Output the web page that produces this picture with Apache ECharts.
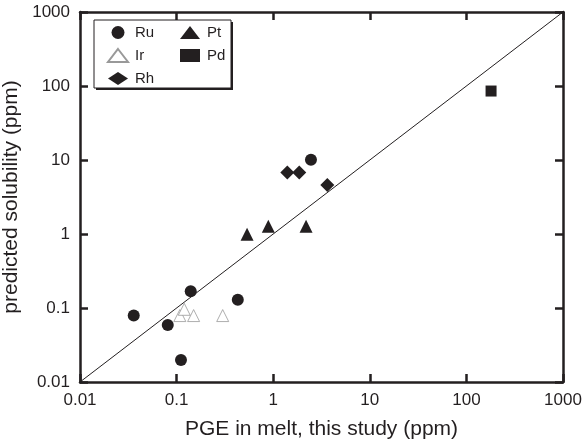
<!DOCTYPE html>
<html><head><meta charset="utf-8">
<script src="https://cdn.jsdelivr.net/npm/echarts@6/dist/echarts.min.js"></script>
<style>html,body{margin:0;padding:0;background:#fff}#c{width:585px;height:447px}</style>
</head><body><div id="c"></div>
<script>
const tickLabels = ['0.01','0.1','1','10','100','1000'];
const ru = [[0.036,0.079],[0.081,0.059],[0.111,0.0198],[0.14,0.168],[0.43,0.129],[2.46,10.1]];
const ir = [[0.108,0.079],[0.12,0.096],[0.15,0.079],[0.30,0.079]];
const rh = [[1.40,6.8],[1.86,6.8],[3.63,4.6]];
const pt = [[0.536,0.99],[0.89,1.27],[2.19,1.27]];
const pd = [[180,85.5]];
const oneToOne = [[0.01,0.01],[1000,1000]];

const ink = '#231f20';
const font = 'Liberation Sans, Arial, sans-serif';
const tickValues = tickLabels.map(Number);
const AX_MIN = tickValues[0], AX_MAX = tickValues[tickValues.length - 1];
const fmt = v => { const s = tickLabels.find(t => Math.abs(Math.log10(parseFloat(t)) - Math.log10(v)) < 1e-6); return s || ''; };
function axisBase(extra){
  return Object.assign({
    type:'log', logBase:10, min:AX_MIN, max:AX_MAX,
    axisLine:{show:true, lineStyle:{color:ink, width:2.5}},
    axisTick:{show:true, inside:true, length:8, lineStyle:{color:ink, width:2.5}},
    splitLine:{show:false},
    axisLabel:{show:true, color:ink, fontFamily:font, fontSize:17, margin:10, formatter:fmt}
  }, extra);
}
const legendText = {fontFamily:font, fontSize:15, color:ink, padding:[0,0,0,2]};
const chart = echarts.init(document.getElementById('c'));
chart.setOption({
  animation:false,
  backgroundColor:'#fff',
  grid:{left:80, right:22, top:12, bottom:65, containLabel:false, outerBoundsMode:'none'},
  graphic:[
    {type:'rect', shape:{x:96,y:22,width:137,height:68}, style:{fill:ink}, z:4},
    {type:'rect', shape:{x:94,y:20,width:137,height:68}, style:{fill:'#fff', stroke:ink, lineWidth:1}, z:5}
  ],
  legend:[
    {data:['Ru','Ir','Rh'], orient:'vertical', left:107, top:25, padding:0, itemGap:8, itemWidth:20, itemHeight:13, textStyle:legendText, z:10},
    {data:['Pt','Pd'], orient:'vertical', left:180, top:25, padding:0, itemGap:8, itemWidth:20, itemHeight:13, textStyle:legendText, z:10}
  ],
  xAxis:[
    axisBase({position:'bottom', name:'PGE in melt, this study (ppm)', nameLocation:'middle', nameGap:37, nameTextStyle:{fontFamily:font, fontSize:21, color:ink}}),
    axisBase({position:'top', axisLabel:{show:false}})
  ],
  yAxis:[
    axisBase({position:'left', name:'predicted solubility (ppm)', nameLocation:'middle', nameGap:46, nameTextStyle:{fontFamily:font, fontSize:21, color:ink}}),
    axisBase({position:'right', axisLabel:{show:false}})
  ],
  series:[
    {type:'line', data:oneToOne, symbol:'none', lineStyle:{color:ink, width:1}, z:2, silent:true},
    {name:'Ru', type:'scatter', data:ru, symbol:'circle', symbolSize:12, itemStyle:{color:ink, opacity:1}, z:3},
    {name:'Ir', type:'scatter', data:ir, symbol:'triangle', symbolSize:12, itemStyle:{color:'#fff', borderColor:'#999', borderWidth:0.8, opacity:1}, z:3},
    {name:'Rh', type:'scatter', data:rh, symbol:'diamond', symbolSize:[14,14], itemStyle:{color:ink, opacity:1}, z:3},
    {name:'Pt', type:'scatter', data:pt, symbol:'triangle', symbolSize:13, itemStyle:{color:ink, opacity:1}, z:3},
    {name:'Pd', type:'scatter', data:pd, symbol:'rect', symbolSize:11, itemStyle:{color:ink, opacity:1}, z:3}
  ]
});
</script></body></html>
